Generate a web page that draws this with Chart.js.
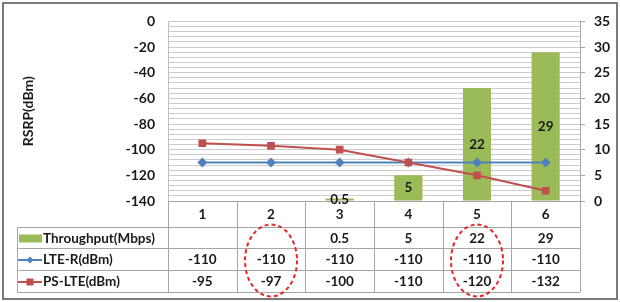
<!DOCTYPE html>
<html><head><meta charset="utf-8">
<script src="https://cdn.jsdelivr.net/npm/chart.js@4/dist/chart.umd.min.js"></script>
<style>html,body{margin:0;padding:0;background:#fff;overflow:hidden}canvas{display:block}</style>
</head><body>
<canvas id="c" width="620" height="302"></canvas>
<script>
const categories = ['1', '2', '3', '4', '5', '6'];
const throughput = [null, null, 0.5, 5, 22, 29];
const lteR = [-110, -110, -110, -110, -110, -110];
const psLte = [-95, -97, -100, -110, -120, -132];
const seriesNames = ['Throughput(Mbps)', 'LTE-R(dBm)', 'PS-LTE(dBm)'];
const yTitle = 'RSRP(dBm)';
const highlightedCategories = ['2', '5'];

const FONT = 'Lato, "Liberation Sans", sans-serif';
const GREEN = '#9bbb59', BLUE = '#4f81bd', RED = '#c0504d';

function line(ctx, x1, y1, x2, y2) {
  ctx.beginPath(); ctx.moveTo(x1, y1); ctx.lineTo(x2, y2); ctx.stroke();
}

const tablePlugin = {
  id: 'dataTable',
  beforeDraw(chart) {
    const ctx = chart.ctx;
    ctx.save(); ctx.fillStyle = '#fff'; ctx.fillRect(0, 0, chart.width, chart.height); ctx.restore();
  },
  afterDraw(chart) {
    const { ctx, chartArea: a, scales: { x } } = chart;
    ctx.save();
    const b = Math.round(a.bottom);
    const rows = [b, b + 26, b + 47, b + 69, b + 91];
    const tableLeft = 17;
    ctx.strokeStyle = '#a6a6a6';
    ctx.lineWidth = 1;
    line(ctx, a.left, rows[0] + 0.5, a.right, rows[0] + 0.5);
    for (let i = 1; i < rows.length; i++) line(ctx, tableLeft, rows[i] + 0.5, a.right, rows[i] + 0.5);
    line(ctx, tableLeft + 0.5, rows[1], tableLeft + 0.5, rows[4]);
    const n = categories.length;
    for (let k = 0; k <= n; k++) {
      const xk = Math.round(a.left + k * (a.right - a.left) / n) + 0.5;
      line(ctx, xk, rows[0], xk, rows[4]);
    }
    ctx.fillStyle = '#1a1a1a';
    ctx.font = 'bold 13.5px ' + FONT;
    ctx.textAlign = 'center';
    ctx.textBaseline = 'middle';
    const series = [throughput, lteR, psLte];
    categories.forEach((c, i) => {
      const cx = x.getPixelForValue(i);
      ctx.fillText(c, cx, (rows[0] + rows[1]) / 2 + 1);
      series.forEach((s, r) => {
        const v = s[i];
        if (v !== null && v !== undefined) ctx.fillText(String(v), cx, (rows[r + 1] + rows[r + 2]) / 2 + 1);
      });
    });
    // legend keys and names
    ctx.textAlign = 'left';
    seriesNames.forEach((name, r) => {
      const cy = (rows[r + 1] + rows[r + 2]) / 2 + 1;
      if (r === 0) {
        ctx.fillStyle = GREEN; ctx.fillRect(19, cy - 4, 23, 8);
      } else {
        const col = r === 1 ? BLUE : RED;
        ctx.strokeStyle = col; ctx.lineWidth = 2;
        line(ctx, 18, cy, 42, cy);
        ctx.fillStyle = col;
        if (r === 1) {
          ctx.beginPath(); ctx.moveTo(30, cy - 3.5); ctx.lineTo(33.5, cy); ctx.lineTo(30, cy + 3.5); ctx.lineTo(26.5, cy); ctx.closePath(); ctx.fill();
        } else {
          ctx.fillRect(26.5, cy - 3.5, 7, 7);
        }
      }
      ctx.fillStyle = '#1a1a1a';
      ctx.fillText(name, 43, cy);
    });
    // bar value labels
    const meta = chart.getDatasetMeta(0);
    ctx.textAlign = 'center';
    meta.data.forEach((el, i) => {
      const v = throughput[i];
      if (v === null) return;
      ctx.fillText(String(v), el.x, (el.y + el.base) / 2);
    });
    // y title
    ctx.save();
    ctx.font = 'bold 14px ' + FONT;
    ctx.translate(28, (a.top + a.bottom) / 2);
    ctx.rotate(-Math.PI / 2);
    ctx.textAlign = 'center';
    ctx.fillText(yTitle, 0, 0);
    ctx.restore();
    // red dashed ellipses
    ctx.strokeStyle = '#e8262a';
    ctx.lineWidth = 2;
    ctx.setLineDash([4, 3]);
    highlightedCategories.forEach(c => {
      const cx = x.getPixelForValue(categories.indexOf(c));
      ctx.beginPath();
      ctx.ellipse(cx, (rows[1] + rows[4]) / 2 + 1, 26, 36, 0, 0, Math.PI * 2);
      ctx.stroke();
    });
    ctx.setLineDash([]);
    // outer frame
    ctx.strokeStyle = '#7a7a7a';
    ctx.lineWidth = 2;
    ctx.strokeRect(3, 3, chart.width - 6, chart.height - 6);
    ctx.restore();
  }
};

new Chart(document.getElementById('c'), {
  type: 'bar',
  data: {
    labels: categories,
    datasets: [
      { type: 'bar', label: seriesNames[0], data: throughput, backgroundColor: GREEN, yAxisID: 'y1', order: 3,
        categoryPercentage: 1, barPercentage: 0.41 },
      { type: 'line', label: seriesNames[1], data: lteR, borderColor: BLUE, backgroundColor: BLUE, borderWidth: 2,
        pointStyle: 'rectRot', pointRadius: 3.5, yAxisID: 'y', order: 2 },
      { type: 'line', label: seriesNames[2], data: psLte, borderColor: RED, backgroundColor: RED, borderWidth: 2,
        pointStyle: 'rect', pointRadius: 4, yAxisID: 'y', order: 1 }
    ]
  },
  options: {
    responsive: false,
    animation: false,
    devicePixelRatio: 1,
    layout: { padding: { top: 15, bottom: 101, left: 0, right: 0 } },
    plugins: { legend: { display: false }, tooltip: { enabled: false } },
    scales: {
      x: { display: false, offset: true },
      y: {
        position: 'left', min: -140, max: 0,
        ticks: { stepSize: 4, autoSkip: false, padding: 13, color: '#1a1a1a',
          font: { family: FONT, size: 14, weight: 'bold' },
          callback: v => (Math.round(v) % 20 === 0 ? String(Math.round(v)) : '') },
        grid: { color: '#cccccc', drawTicks: false },
        border: { display: true, color: '#bfbfbf' },
        afterFit(s) { s.width = 168; }
      },
      y1: {
        position: 'right', min: 0, max: 35,
        ticks: { stepSize: 5, padding: 9, color: '#1a1a1a', font: { family: FONT, size: 14, weight: 'bold' } },
        grid: { drawOnChartArea: false, drawTicks: true, tickLength: 5, color: '#a6a6a6' },
        border: { display: true, color: '#a6a6a6' },
        afterFit(s) { s.width = 40; }
      }
    }
  },
  plugins: [tablePlugin]
});
</script>
</body></html>
